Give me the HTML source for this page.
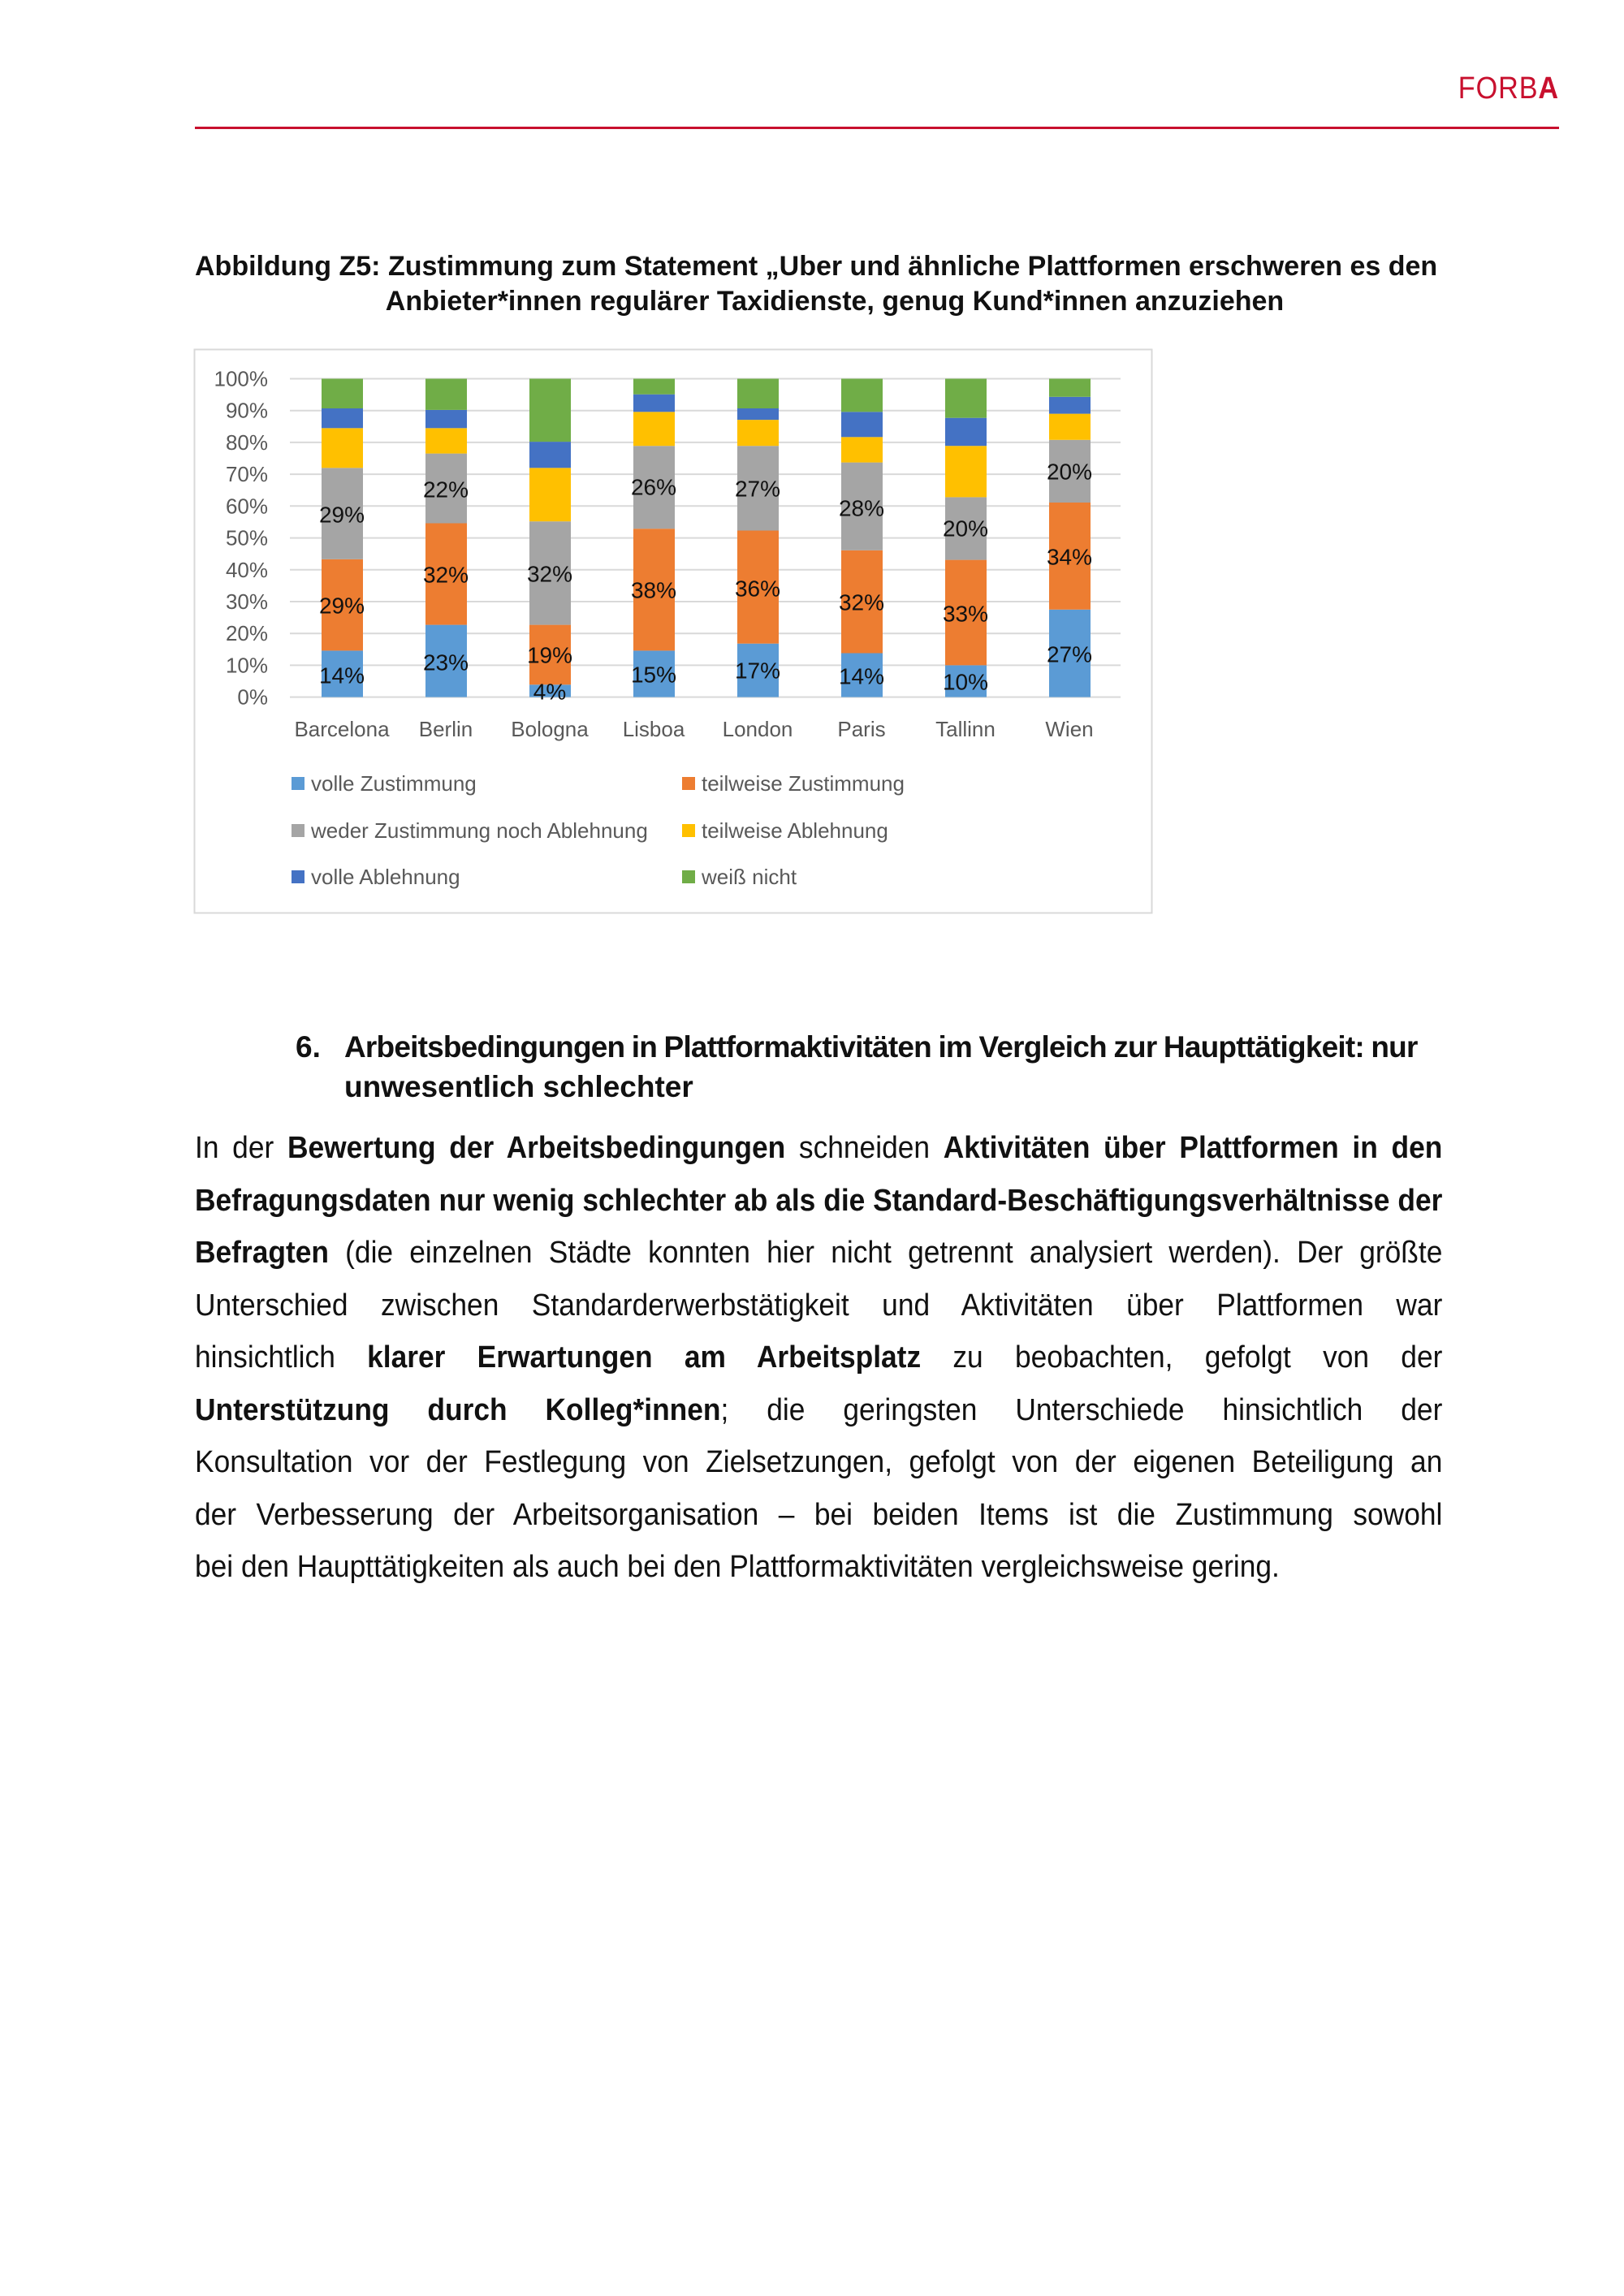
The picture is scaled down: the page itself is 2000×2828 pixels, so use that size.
<!DOCTYPE html>
<html><head><meta charset="utf-8">
<style>
html,body{margin:0;padding:0;background:#fff;overflow:hidden;}
body{width:2000px;height:2828px;position:relative;overflow:hidden;font-family:"Liberation Sans",sans-serif;color:#111;}
.sc{position:absolute;transform-origin:0 0;}
.j{text-align:justify;text-align-last:justify;white-space:nowrap;}
b{font-weight:bold;}
</style></head><body>
<div style="position:absolute;right:80px;top:88px;font-size:38px;color:#c8102e;letter-spacing:1px;transform:scaleX(0.9);transform-origin:right;">FORB<b>A</b></div>
<div style="position:absolute;left:240px;top:156px;width:1680px;height:3px;background:#c8102e;"></div>

<div class="sc" style="left:240px;top:307px;width:1536px;font-size:34px;font-weight:bold;line-height:43px;">
<div style="white-space:nowrap;">Abbildung Z5: Zustimmung zum Statement „Uber und ähnliche Plattformen erschweren es den</div>
<div style="text-align:center;white-space:nowrap;padding-left:40px;">Anbieter*innen regulärer Taxidienste, genug Kund*innen anzuziehen</div>
</div>

<svg style="position:absolute;left:0;top:0" width="2000" height="1200" font-family="Liberation Sans, sans-serif">
<rect x="239.5" y="430.5" width="1179" height="694" fill="#fff" stroke="#d9d9d9" stroke-width="2"/>
<g stroke="#d9d9d9" stroke-width="2">
<line x1="357" x2="1380" y1="858.6" y2="858.6"/><line x1="357" x2="1380" y1="819.4" y2="819.4"/>
<line x1="357" x2="1380" y1="780.2" y2="780.2"/><line x1="357" x2="1380" y1="741" y2="741"/>
<line x1="357" x2="1380" y1="701.8" y2="701.8"/><line x1="357" x2="1380" y1="662.6" y2="662.6"/>
<line x1="357" x2="1380" y1="623.3" y2="623.3"/><line x1="357" x2="1380" y1="584.1" y2="584.1"/>
<line x1="357" x2="1380" y1="544.9" y2="544.9"/><line x1="357" x2="1380" y1="505.7" y2="505.7"/>
<line x1="357" x2="1380" y1="466.5" y2="466.5"/>
</g>
<g font-size="26" fill="#595959" text-anchor="end" dominant-baseline="central">
<text x="330" y="858.6">0%</text><text x="330" y="819.4">10%</text><text x="330" y="780.2">20%</text>
<text x="330" y="741">30%</text><text x="330" y="701.8">40%</text><text x="330" y="662.6">50%</text>
<text x="330" y="623.3">60%</text><text x="330" y="584.1">70%</text><text x="330" y="544.9">80%</text>
<text x="330" y="505.7">90%</text><text x="330" y="466.5">100%</text>
</g>
<g>
<rect x="396" y="801.4" width="51" height="57.2" fill="#5b9bd5"/><rect x="396" y="688.8" width="51" height="112.6" fill="#ed7d31"/><rect x="396" y="576.3" width="51" height="112.5" fill="#a5a5a5"/><rect x="396" y="527.3" width="51" height="49" fill="#ffc000"/><rect x="396" y="503" width="51" height="24.3" fill="#4472c4"/><rect x="396" y="466.5" width="51" height="36.5" fill="#70ad47"/>
<rect x="524" y="769.6" width="51" height="89" fill="#5b9bd5"/><rect x="524" y="644.5" width="51" height="125.1" fill="#ed7d31"/><rect x="524" y="558.6" width="51" height="85.9" fill="#a5a5a5"/><rect x="524" y="527.3" width="51" height="31.3" fill="#ffc000"/><rect x="524" y="504.9" width="51" height="22.4" fill="#4472c4"/><rect x="524" y="466.5" width="51" height="38.4" fill="#70ad47"/>
<rect x="652" y="843.3" width="51" height="15.3" fill="#5b9bd5"/><rect x="652" y="769.6" width="51" height="73.7" fill="#ed7d31"/><rect x="652" y="642.2" width="51" height="127.4" fill="#a5a5a5"/><rect x="652" y="576.3" width="51" height="65.9" fill="#ffc000"/><rect x="652" y="544.1" width="51" height="32.2" fill="#4472c4"/><rect x="652" y="466.5" width="51" height="77.6" fill="#70ad47"/>
<rect x="780" y="801.4" width="51" height="57.2" fill="#5b9bd5"/><rect x="780" y="651.2" width="51" height="150.2" fill="#ed7d31"/><rect x="780" y="549.2" width="51" height="102" fill="#a5a5a5"/><rect x="780" y="507.3" width="51" height="41.9" fill="#ffc000"/><rect x="780" y="485.7" width="51" height="21.6" fill="#4472c4"/><rect x="780" y="466.5" width="51" height="19.2" fill="#70ad47"/>
<rect x="908" y="792.7" width="51" height="65.9" fill="#5b9bd5"/><rect x="908" y="653.5" width="51" height="139.2" fill="#ed7d31"/><rect x="908" y="549.2" width="51" height="104.3" fill="#a5a5a5"/><rect x="908" y="517.1" width="51" height="32.1" fill="#ffc000"/><rect x="908" y="503" width="51" height="14.1" fill="#4472c4"/><rect x="908" y="466.5" width="51" height="36.5" fill="#70ad47"/>
<rect x="1036" y="804.5" width="51" height="54.1" fill="#5b9bd5"/><rect x="1036" y="677.8" width="51" height="126.7" fill="#ed7d31"/><rect x="1036" y="569.6" width="51" height="108.2" fill="#a5a5a5"/><rect x="1036" y="538.3" width="51" height="31.3" fill="#ffc000"/><rect x="1036" y="507.3" width="51" height="31" fill="#4472c4"/><rect x="1036" y="466.5" width="51" height="40.8" fill="#70ad47"/>
<rect x="1164" y="819.4" width="51" height="39.2" fill="#5b9bd5"/><rect x="1164" y="689.6" width="51" height="129.8" fill="#ed7d31"/><rect x="1164" y="612.4" width="51" height="77.2" fill="#a5a5a5"/><rect x="1164" y="549.2" width="51" height="63.2" fill="#ffc000"/><rect x="1164" y="514.7" width="51" height="34.5" fill="#4472c4"/><rect x="1164" y="466.5" width="51" height="48.2" fill="#70ad47"/>
<rect x="1292" y="750.8" width="51" height="107.8" fill="#5b9bd5"/><rect x="1292" y="619" width="51" height="131.8" fill="#ed7d31"/><rect x="1292" y="541.8" width="51" height="77.2" fill="#a5a5a5"/><rect x="1292" y="509.6" width="51" height="32.2" fill="#ffc000"/><rect x="1292" y="488.8" width="51" height="20.8" fill="#4472c4"/><rect x="1292" y="466.5" width="51" height="22.3" fill="#70ad47"/>
</g>
<g font-size="28" fill="#111" text-anchor="middle" dominant-baseline="central">
<text x="421" y="832">14%</text><text x="421" y="746">29%</text><text x="421" y="634">29%</text>
<text x="549" y="816">23%</text><text x="549" y="708">32%</text><text x="549" y="603">22%</text>
<text x="677" y="852">4%</text><text x="677" y="807">19%</text><text x="677" y="707">32%</text>
<text x="805" y="831">15%</text><text x="805" y="727">38%</text><text x="805" y="600">26%</text>
<text x="933" y="826">17%</text><text x="933" y="725">36%</text><text x="933" y="602">27%</text>
<text x="1061" y="833">14%</text><text x="1061" y="742">32%</text><text x="1061" y="626">28%</text>
<text x="1189" y="840">10%</text><text x="1189" y="756">33%</text><text x="1189" y="651">20%</text>
<text x="1317" y="806">27%</text><text x="1317" y="686">34%</text><text x="1317" y="581">20%</text>
</g>
<g font-size="26" fill="#595959" text-anchor="middle" dominant-baseline="central">
<text x="421" y="898">Barcelona</text><text x="549" y="898">Berlin</text><text x="677" y="898">Bologna</text>
<text x="805" y="898">Lisboa</text><text x="933" y="898">London</text><text x="1061" y="898">Paris</text>
<text x="1189" y="898">Tallinn</text><text x="1317" y="898">Wien</text>
</g>
<g>
<rect x="359" y="957" width="16" height="16" fill="#5b9bd5"/><rect x="840" y="957" width="16" height="16" fill="#ed7d31"/>
<rect x="359" y="1015" width="16" height="16" fill="#a5a5a5"/><rect x="840" y="1015" width="16" height="16" fill="#ffc000"/>
<rect x="359" y="1072" width="16" height="16" fill="#4472c4"/><rect x="840" y="1072" width="16" height="16" fill="#70ad47"/>
</g>
<g font-size="26" fill="#595959" dominant-baseline="central">
<text x="383" y="965">volle Zustimmung</text><text x="864" y="965">teilweise Zustimmung</text>
<text x="383" y="1023">weder Zustimmung noch Ablehnung</text><text x="864" y="1023">teilweise Ablehnung</text>
<text x="383" y="1080">volle Ablehnung</text><text x="864" y="1080">weiß nicht</text>
</g>
</svg>

<div class="sc" style="left:364px;top:1265px;font-size:37px;font-weight:bold;line-height:49px;width:1412px;">
<div style="position:absolute;left:0;top:0;">6.</div>
<div style="position:absolute;left:60px;top:0;width:1352px;white-space:nowrap;letter-spacing:-0.8px;word-spacing:-1px;">Arbeitsbedingungen in Plattformaktivitäten im Vergleich zur Haupttätigkeit: nur</div>
<div style="position:absolute;left:60px;top:49px;white-space:nowrap;">unwesentlich schlechter</div>
</div>

<div class="sc" style="left:240px;top:1382px;width:1652px;transform:scaleX(0.93);font-size:38px;line-height:64.5px;">
<div class="j">In der <b>Bewertung der Arbeitsbedingungen</b> schneiden <b>Aktivitäten über Plattformen in den</b></div>
<div class="j"><b>Befragungsdaten nur wenig schlechter ab als die Standard-Beschäftigungsverhältnisse der</b></div>
<div class="j"><b>Befragten</b> (die einzelnen Städte konnten hier nicht getrennt analysiert werden). Der größte</div>
<div class="j">Unterschied zwischen Standarderwerbstätigkeit und Aktivitäten über Plattformen war</div>
<div class="j">hinsichtlich <b>klarer Erwartungen am Arbeitsplatz</b> zu beobachten, gefolgt von der</div>
<div class="j"><b>Unterstützung durch Kolleg*innen</b>; die geringsten Unterschiede hinsichtlich der</div>
<div class="j">Konsultation vor der Festlegung von Zielsetzungen, gefolgt von der eigenen Beteiligung an</div>
<div class="j">der Verbesserung der Arbeitsorganisation – bei beiden Items ist die Zustimmung sowohl</div>
<div style="white-space:nowrap;">bei den Haupttätigkeiten als auch bei den Plattformaktivitäten vergleichsweise gering.</div>
</div>
</body></html>
